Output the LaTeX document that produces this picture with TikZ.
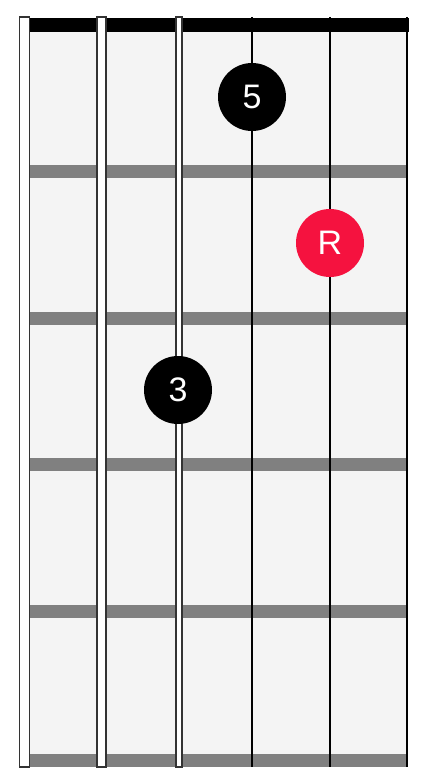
\documentclass[tikz,border=0pt]{standalone}
\usepackage{fontspec}
\setsansfont{Liberation Sans}
\definecolor{boardcol}{HTML}{F4F4F4}
\definecolor{fretcol}{HTML}{808080}
\definecolor{rootcol}{HTML}{F5123F}
\tikzset{
  wound string/.style={fill=white,draw=black!80,line width=1.2},
  plain string/.style={draw=black,line width=2},
  dot/.style={circle,fill=black,text=white,minimum size=68,inner sep=0,
              font=\sffamily\fontsize{34}{34}\selectfont}}

\begin{document}
\begin{tikzpicture}[x=1pt,y=-1pt]
  \useasboundingbox (0,0) rectangle (430,784);
  \def\xL{30}  % board left
  \def\xR{408} % board right
  \def\yT{32}  % nut bottom
  \def\yB{767} % board bottom
  \def\fw{13}  % fret width
  
  % BOARD
  \fill[boardcol] (\xL,\yT) rectangle (\xR,\yB);
  \fill[black] (\xL,18) rectangle (409,\yT); % nut
  
  % FRETS
  \foreach \y in {165,312,458,605,754}
    \fill[fretcol] (\xL,\y) rectangle (\xR,\y+\fw);
  
  % STRINGS
  \foreach \x/\w in {24.5/10,101.5/9,179/6}
    \draw[wound string] (\x-\w/2,17) rectangle (\x+\w/2,\yB);
  \foreach \x in {252,330,407}
    \draw[plain string] (\x,17) -- (\x,\yB);
  
  % DOTS
  \node[dot] (five) at (252,97) {5};
  \node[dot,fill=rootcol] (root) at (330,243) {R};
  \node[dot] (third) at (178,390) {3};
  
\end{tikzpicture}
\end{document}
